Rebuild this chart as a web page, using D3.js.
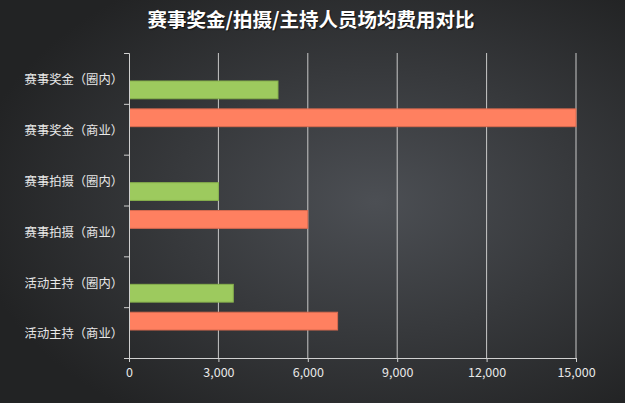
<!DOCTYPE html>
<html>
<head>
<meta charset="utf-8">
<script src="https://cdn.jsdelivr.net/npm/d3@7"></script>
<style>
  html, body { margin: 0; padding: 0; background: #2b2c2e; }
  svg { display: block; }
  .axis path, .axis line { stroke: #d0d0d0; }
  .axis text { fill: #e8e8e8; font-family: "Noto Sans CJK SC", "Noto Sans", sans-serif; }
</style>
</head>
<body>
<div id="chart-container"></div>
<script>
const title = "赛事奖金/拍摄/主持人员场均费用对比";
const categories = [
  "赛事奖金（圈内）",
  "赛事奖金（商业）",
  "赛事拍摄（圈内）",
  "赛事拍摄（商业）",
  "活动主持（圈内）",
  "活动主持（商业）"
];
const seriesNames = ["商业", "圈内"];
const quanNei = [5000, 0, 3000, 0, 3500, 0];
const shangYe = [0, 15000, 0, 6000, 0, 7000];
const xTicks = [0, 3000, 6000, 9000, 12000, 15000];

const width = 625;
const height = 403;
const margins = { top: 53, right: 49, bottom: 45, left: 129 };
const chartWidth = width - margins.left - margins.right;
const chartHeight = height - margins.top - margins.bottom;

const svg = d3
  .select("#chart-container")
  .append("svg")
  .attr("width", width)
  .attr("height", height);

// background
const grad = svg
  .append("defs")
  .append("radialGradient")
  .attr("id", "bg")
  .attr("cx", "60%")
  .attr("cy", "50%")
  .attr("r", "65%");
grad.append("stop").attr("offset", "0%").attr("stop-color", "#4c4f54");
grad.append("stop").attr("offset", "100%").attr("stop-color", "#222324");
svg.append("rect").attr("width", width).attr("height", height).attr("fill", "url(#bg)");

svg
  .append("text")
  .text(title)
  .attr("x", 311)
  .attr("y", 27)
  .attr("text-anchor", "middle")
  .attr("fill", "#ffffff")
  .attr("font-size", 19.5)
  .attr("font-weight", "bold")
  .attr("font-family", "'Noto Sans CJK SC', sans-serif")
  .style("text-shadow", "1px 1px 1px rgba(0,0,0,0.6)");

const chart = svg
  .append("g")
  .attr("transform", `translate(${margins.left}, ${margins.top})`);

const xScale = d3.scaleLinear().domain([0, 15000]).range([0, chartWidth]);
const yScale = d3.scaleBand().domain(categories).range([0, chartHeight]);
const subScale = d3
  .scaleBand()
  .domain(seriesNames)
  .range([0, yScale.bandwidth()])
  .paddingInner(0.225)
  .paddingOuter(0.22);

// grid
chart
  .selectAll(".grid")
  .data(xTicks.filter(d => d > 0))
  .enter()
  .append("line")
  .attr("x1", d => xScale(d))
  .attr("x2", d => xScale(d))
  .attr("y1", 0)
  .attr("y2", chartHeight)
  .attr("stroke", "#c8c8c8")
  .attr("stroke-width", 1);

// bars
const rows = categories.map((c, i) => ({ cat: c, 商业: shangYe[i], 圈内: quanNei[i] }));
const colors = { 圈内: ["#9dca5e", "#86b04c"], 商业: ["#ff8060", "#d96a4f"] };

seriesNames.forEach(s => {
  chart
    .selectAll(`.bar-${s}`)
    .data(rows.filter(d => d[s] > 0))
    .enter()
    .append("rect")
    .attr("x", 0.5)
    .attr("y", d => yScale(d.cat) + subScale(s))
    .attr("width", d => xScale(d[s]) - 0.5)
    .attr("height", subScale.bandwidth())
    .attr("fill", colors[s][0])
    .attr("stroke", colors[s][1])
    .attr("stroke-width", 1);
});

// x axis
const xAxis = chart
  .append("g")
  .attr("class", "axis")
  .attr("transform", `translate(0, ${chartHeight})`)
  .call(
    d3.axisBottom(xScale)
      .tickValues(xTicks)
      .tickFormat(d3.format(","))
      .tickSize(4)
      .tickSizeOuter(4)
      .tickPadding(6)
  );
xAxis.selectAll("text").attr("font-size", 12.5);

// y axis: boundary ticks
const yIdx = d3.scaleLinear().domain([0, categories.length]).range([0, chartHeight]);
chart
  .append("g")
  .attr("class", "axis")
  .call(
    d3.axisLeft(yIdx)
      .tickValues(d3.range(categories.length + 1))
      .tickFormat("")
      .tickSize(5)
      .tickSizeOuter(5)
  );

// y labels
chart
  .append("g")
  .attr("class", "axis")
  .call(d3.axisLeft(yScale).tickSize(0).tickPadding(6))
  .call(g => g.select(".domain").remove())
  .selectAll("text")
  .attr("font-size", 12.3)
  .attr("dy", "0.48em");
</script>
</body>
</html>
